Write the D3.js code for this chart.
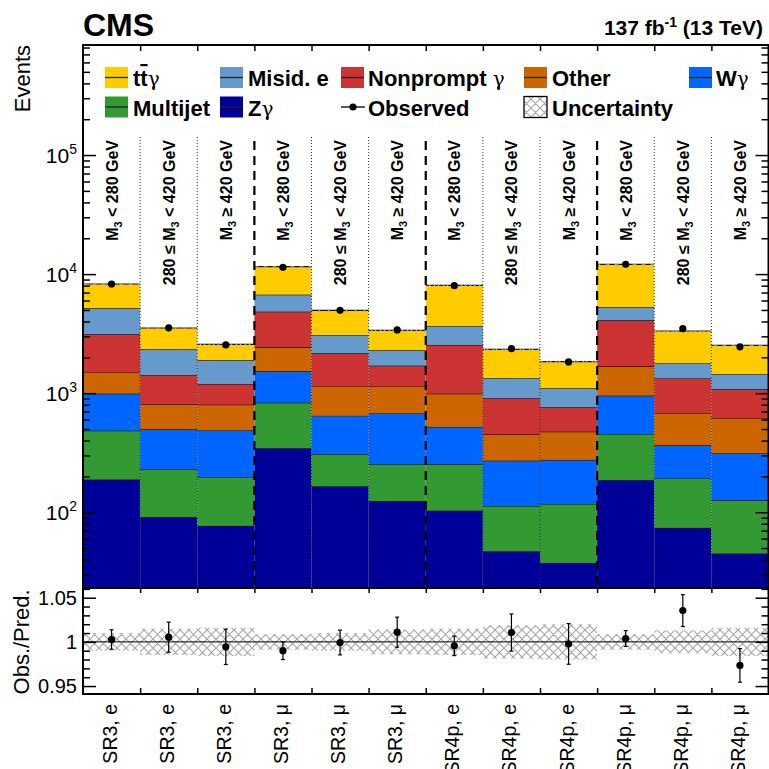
<!DOCTYPE html>
<html lang="en">
<head>
  <meta charset="UTF-8">
  <title>Signal region yields</title>
  <script src="https://d3js.org/d3.v7.min.js"></script>
  <style>
    body { margin: 0; padding: 0; background: #fff; }
    svg { display: block; font-family: "Liberation Sans", Arial, Helvetica, sans-serif; }
  </style>
</head>
<body>
  <div id="chart"></div>
  <script>
    // bins
    const categories = ["SR3, e", "SR3, e", "SR3, e", "SR3, \u03bc", "SR3, \u03bc", "SR3, \u03bc",
                        "SR4p, e", "SR4p, e", "SR4p, e", "SR4p, \u03bc", "SR4p, \u03bc", "SR4p, \u03bc"];
    const massLabels = [["", "< 280 GeV"], ["280 \u2264 ", "< 420 GeV"], ["", "\u2265 420 GeV"]];
    const massIndex = [0, 1, 2, 0, 1, 2, 0, 1, 2, 0, 1, 2];

    // processes, bottom of the stack first
    const processKeys = ["zg", "multijet", "wg", "other", "nonprompt", "misid", "ttg"];
    const processColors = ["#000099", "#339933", "#0066ff", "#cc6600", "#cc3333", "#6699cc", "#ffcc00"];

    const zg        = [188, 91, 77, 345, 165, 124, 103, 47, 37.5, 186, 74, 45];
    const multijet  = [296, 138, 120, 487, 143, 129, 151, 66, 80, 268, 118, 81];
    const wg        = [506, 268, 291, 695, 338, 425, 266, 158, 158, 499, 173, 187];
    const other     = [508, 313, 312, 902, 503, 465, 470, 180, 199, 729, 313, 303];
    const nonprompt = [1625, 611, 395, 2405, 1013, 559, 1549, 454, 286, 2411, 656, 462];
    const misid     = [2041, 915, 694, 1880, 918, 589, 1128, 436, 338, 1170, 449, 371];
    const ttg       = [3096, 1191, 685, 4821, 1885, 1083, 4387, 995, 740, 6822, 1546, 1075];

    const observed  = [8260, 3540, 2540, 11400, 4966, 3400, 8000, 2365, 1830, 12100, 3480, 2450];

    // ratio panel
    const ratio     = [1.0027, 1.0053, 0.9944, 0.990, 0.9993, 1.011, 0.9955, 1.0106, 0.9977, 1.0038, 1.0354, 0.9734];
    const ratioErr  = [0.011, 0.017, 0.020, 0.010, 0.014, 0.017, 0.011, 0.021, 0.023, 0.009, 0.018, 0.019];
    const predUnc   = [0.010, 0.015, 0.016, 0.009, 0.010, 0.014, 0.015, 0.019, 0.020, 0.009, 0.013, 0.016];

    const majorTicks = [1e2, 1e3, 1e4, 1e5];
    const ratioTicks = [0.95, 1, 1.05];

    const W = 769, H = 769;
    const svg = d3.select("#chart").append("svg").attr("width", W).attr("height", H);

    const x = d3.scaleLinear().domain([0, 12]).range([83, 768.5]);
    const y = d3.scaleLog().domain([23.1, 8.4e5]).range([588, 45]);
    const yr = d3.scaleLinear().domain([0.941, 1.061]).range([694, 588]);

    const defs = svg.append("defs");
    const pat = defs.append("pattern").attr("id", "hatch")
      .attr("patternUnits", "userSpaceOnUse").attr("width", 9).attr("height", 9);
    pat.append("path").attr("d", "M0,0L9,9M9,0L0,9M-1,8L1,10M8,-1L10,1")
      .attr("stroke", "#a8a8a8").attr("stroke-width", 1.2);
    defs.append("clipPath").attr("id", "mainClip").append("rect")
      .attr("x", x(0)).attr("y", y.range()[1]).attr("width", x(12) - x(0)).attr("height", y.range()[0] - y.range()[1]);

    // stacked histograms
    const series = [zg, multijet, wg, other, nonprompt, misid, ttg];
    const table = categories.map((c, i) => {
      const row = { bin: i };
      processKeys.forEach((k, j) => { row[k] = series[j][i]; });
      return row;
    });
    const stacked = d3.stack().keys(processKeys)(table);
    const ymin = y.domain()[0];

    const main = svg.append("g").attr("clip-path", "url(#mainClip)");
    stacked.forEach((layer, j) => {
      const g = main.append("g");
      g.selectAll("rect").data(layer).join("rect")
        .attr("x", (d, i) => x(i))
        .attr("width", x(1) - x(0))
        .attr("y", d => y(d[1]))
        .attr("height", d => y(Math.max(d[0], ymin)) - y(d[1]))
        .attr("fill", processColors[j]);
      g.selectAll("line").data(layer).join("line")
        .attr("x1", (d, i) => x(i)).attr("x2", (d, i) => x(i + 1))
        .attr("y1", d => y(d[1])).attr("y2", d => y(d[1]))
        .attr("stroke", "#111").attr("stroke-width", 1.2);
    });

    // uncertainty on the total
    const totals = table.map(r => processKeys.reduce((s, k) => s + r[k], 0));
    main.append("g").selectAll("rect").data(totals).join("rect")
      .attr("x", (d, i) => x(i)).attr("width", x(1) - x(0))
      .attr("y", (d, i) => y(d * (1 + predUnc[i])))
      .attr("height", (d, i) => Math.max(2, y(d * (1 - predUnc[i])) - y(d * (1 + predUnc[i]))))
      .attr("fill", "url(#hatch)");

    // separators
    const seps = d3.range(1, 12);
    svg.append("g").selectAll("line").data(seps.filter(s => s % 3 !== 0)).join("line")
      .attr("x1", d => x(d)).attr("x2", d => x(d)).attr("y1", 137).attr("y2", 588)
      .attr("stroke", "#333").attr("stroke-width", 1).attr("stroke-dasharray", "1,2");
    svg.append("g").selectAll("line").data(seps.filter(s => s % 3 === 0)).join("line")
      .attr("x1", d => x(d)).attr("x2", d => x(d)).attr("y1", 141).attr("y2", 588)
      .attr("stroke", "#000").attr("stroke-width", 2.2).attr("stroke-dasharray", "9,6");

    // observed
    svg.append("g").selectAll("circle").data(observed).join("circle")
      .attr("cx", (d, i) => x(i + 0.5)).attr("cy", d => y(d)).attr("r", 3.6).attr("fill", "#000");

    // mass labels
    svg.append("g").selectAll("text").data(massIndex).join("text")
      .attr("transform", (d, i) => `translate(${x(i + 0.5) + 6},140) rotate(-90)`)
      .attr("text-anchor", "end").attr("font-weight", "bold").attr("font-size", 16)
      .each(function (d) {
        const t = d3.select(this);
        const m = massLabels[d];
        if (m[0]) t.append("tspan").text(m[0]);
        t.append("tspan").text("M");
        t.append("tspan").attr("dy", 4).attr("font-size", 11).text("3");
        t.append("tspan").attr("dy", -4).text(" " + m[1]);
      });

    // ratio panel
    svg.append("g").selectAll("rect").data(predUnc).join("rect")
      .attr("x", (d, i) => x(i)).attr("width", x(1) - x(0))
      .attr("y", d => yr(1 + d)).attr("height", d => yr(1 - d) - yr(1 + d))
      .attr("fill", "url(#hatch)");
    svg.append("line").attr("x1", x(0)).attr("x2", x(12)).attr("y1", yr(1)).attr("y2", yr(1))
      .attr("stroke", "#000").attr("stroke-width", 1);
    const eb = svg.append("g").selectAll("g").data(ratio).join("g")
      .attr("transform", (d, i) => `translate(${x(i + 0.5)},0)`);
    eb.append("line").attr("y1", (d, i) => yr(d + ratioErr[i])).attr("y2", (d, i) => yr(d - ratioErr[i]))
      .attr("stroke", "#000").attr("stroke-width", 1.2);
    eb.append("line").attr("x1", -2).attr("x2", 2)
      .attr("y1", (d, i) => yr(d + ratioErr[i])).attr("y2", (d, i) => yr(d + ratioErr[i]))
      .attr("stroke", "#000").attr("stroke-width", 1.2);
    eb.append("line").attr("x1", -2).attr("x2", 2)
      .attr("y1", (d, i) => yr(d - ratioErr[i])).attr("y2", (d, i) => yr(d - ratioErr[i]))
      .attr("stroke", "#000").attr("stroke-width", 1.2);
    eb.append("circle").attr("cy", d => yr(d)).attr("r", 3.6).attr("fill", "#000");

    // axes
    const noDomain = g => g.select(".domain").remove();
    const minorTicks = [];
    for (let e = 1; e <= 5; e++) for (let k = 2; k <= 9; k++) {
      const v = k * Math.pow(10, e);
      if (v >= y.domain()[0] && v <= y.domain()[1]) minorTicks.push(v);
    }
    const ratioMinor = d3.range(0.95, 1.061, 0.01).filter(v => !ratioTicks.some(t => Math.abs(t - v) < 1e-6));
    const axisStyle = g => { noDomain(g); g.selectAll("line").attr("stroke", "#000").attr("stroke-width", 1.5); g.selectAll("text").remove(); };

    svg.append("g").attr("transform", `translate(${x(0)},0)`).call(d3.axisLeft(y).tickValues(majorTicks).tickSize(-13)).call(axisStyle);
    svg.append("g").attr("transform", `translate(${x(0)},0)`).call(d3.axisLeft(y).tickValues(minorTicks).tickSize(-7)).call(axisStyle);
    svg.append("g").attr("transform", `translate(${x(12)},0)`).call(d3.axisRight(y).tickValues(majorTicks).tickSize(-13)).call(axisStyle);
    svg.append("g").attr("transform", `translate(${x(12)},0)`).call(d3.axisRight(y).tickValues(minorTicks).tickSize(-7)).call(axisStyle);

    svg.append("g").attr("transform", `translate(${x(0)},0)`).call(d3.axisLeft(yr).tickValues(ratioTicks).tickSize(-13)).call(axisStyle);
    svg.append("g").attr("transform", `translate(${x(0)},0)`).call(d3.axisLeft(yr).tickValues(ratioMinor).tickSize(-7)).call(axisStyle);
    svg.append("g").attr("transform", `translate(${x(12)},0)`).call(d3.axisRight(yr).tickValues(ratioTicks).tickSize(-13)).call(axisStyle);
    svg.append("g").attr("transform", `translate(${x(12)},0)`).call(d3.axisRight(yr).tickValues(ratioMinor).tickSize(-7)).call(axisStyle);

    svg.append("g").attr("transform", `translate(0,${y.range()[1]})`).call(d3.axisTop(x).tickValues(seps).tickSize(-6)).call(axisStyle);
    svg.append("g").attr("transform", `translate(0,${yr.range()[1]})`).call(d3.axisTop(x).tickValues(seps).tickSize(-5)).call(axisStyle);
    svg.append("g").attr("transform", `translate(0,${yr.range()[0]})`).call(d3.axisBottom(x).tickValues(seps).tickSize(-6)).call(axisStyle);

    // frames
    svg.append("rect").attr("x", x(0)).attr("y", y.range()[1]).attr("width", x(12) - x(0)).attr("height", y.range()[0] - y.range()[1])
      .attr("fill", "none").attr("stroke", "#000").attr("stroke-width", 2);
    svg.append("rect").attr("x", x(0)).attr("y", yr.range()[1]).attr("width", x(12) - x(0)).attr("height", yr.range()[0] - yr.range()[1])
      .attr("fill", "none").attr("stroke", "#000").attr("stroke-width", 2);

    // tick labels
    const yl = svg.append("g").selectAll("text").data(majorTicks).join("text")
      .attr("x", 77).attr("y", d => y(d) + 8).attr("text-anchor", "end").attr("font-size", 21);
    yl.append("tspan").text("10");
    yl.append("tspan").attr("dy", -9).attr("font-size", 14).text(d => Math.round(Math.log10(d)));

    svg.append("g").selectAll("text").data(ratioTicks).join("text")
      .attr("x", 77).attr("y", d => yr(d) + 7).attr("text-anchor", "end").attr("font-size", 20)
      .text(d => d === 1 ? "1" : d.toFixed(2));

    svg.append("g").selectAll("text").data(categories).join("text")
      .attr("transform", (d, i) => `translate(${x(i + 0.5) + 5},704) rotate(-90)`)
      .attr("text-anchor", "end").attr("font-size", 19.5).text(d => d);

    // axis titles
    svg.append("text").attr("transform", "translate(30,45) rotate(-90)")
      .attr("text-anchor", "end").attr("font-size", 22).text("Events");
    svg.append("text").attr("transform", `translate(29,${yr(1)}) rotate(-90)`)
      .attr("text-anchor", "middle").attr("font-size", 22).text("Obs./Pred.");

    // header
    svg.append("text").attr("x", 83).attr("y", 36).attr("font-size", 32).attr("font-weight", "bold").text("CMS");
    const lumi = svg.append("text").attr("x", 763).attr("y", 35).attr("text-anchor", "end")
      .attr("font-size", 21).attr("font-weight", "bold");
    lumi.append("tspan").text("137 fb");
    lumi.append("tspan").attr("dy", -8).attr("font-size", 14).text("-1");
    lumi.append("tspan").attr("dy", 8).text(" (13 TeV)");

    // legend
    const legendItems = [
      { proc: "ttg", label: [["t"], ["t", "bar"], ["\u03b3", "g"]], bx: 105, tx: 133, row: 0 },
      { proc: "misid", label: [["Misid. e"]], bx: 220, tx: 248, row: 0 },
      { proc: "nonprompt", label: [["Nonprompt "], ["\u03b3", "g"]], bx: 341, tx: 368, row: 0 },
      { proc: "other", label: [["Other"]], bx: 524, tx: 552, row: 0 },
      { proc: "wg", label: [["W"], ["\u03b3", "g"]], bx: 689, tx: 716, row: 0 },
      { proc: "multijet", label: [["Multijet"]], bx: 105, tx: 133, row: 1 },
      { proc: "zg", label: [["Z"], ["\u03b3", "g"]], bx: 220, tx: 248, row: 1 },
      { proc: "obs", label: [["Observed"]], bx: 341, tx: 368, row: 1 },
      { proc: "unc", label: [["Uncertainty"]], bx: 524, tx: 552, row: 1 }
    ];
    const rowTop = [67, 96.5];
    const leg = svg.append("g");
    legendItems.forEach(it => {
      const top = rowTop[it.row], mid = top + 10.5;
      if (it.proc === "obs") {
        leg.append("line").attr("x1", it.bx).attr("x2", it.bx + 24).attr("y1", mid).attr("y2", mid)
          .attr("stroke", "#000").attr("stroke-width", 1.3);
        leg.append("circle").attr("cx", it.bx + 12).attr("cy", mid).attr("r", 3.6).attr("fill", "#000");
      } else if (it.proc === "unc") {
        leg.append("rect").attr("x", it.bx).attr("y", top).attr("width", 23).attr("height", 21)
          .attr("fill", "url(#hatch)").attr("stroke", "#000").attr("stroke-width", 1.3);
      } else {
        const j = processKeys.indexOf(it.proc);
        leg.append("rect").attr("x", it.bx).attr("y", top).attr("width", 23).attr("height", 21)
          .attr("fill", processColors[j]);
        leg.append("line").attr("x1", it.bx).attr("x2", it.bx + 23).attr("y1", mid).attr("y2", mid)
          .attr("stroke", "#222").attr("stroke-width", 1.3);
      }
      const t = leg.append("text").attr("x", it.tx).attr("y", top + 19).attr("font-size", 22).attr("font-weight", "bold");
      it.label.forEach(part => {
        const s = t.append("tspan").text(part[0]);
        if (part[1] === "bar") s.style("text-decoration", "overline");
        if (part[1] === "g") s.attr("font-weight", "normal").attr("font-family", "'DejaVu Serif', serif").attr("font-size", 20);
      });
    });
  </script>
</body>
</html>
